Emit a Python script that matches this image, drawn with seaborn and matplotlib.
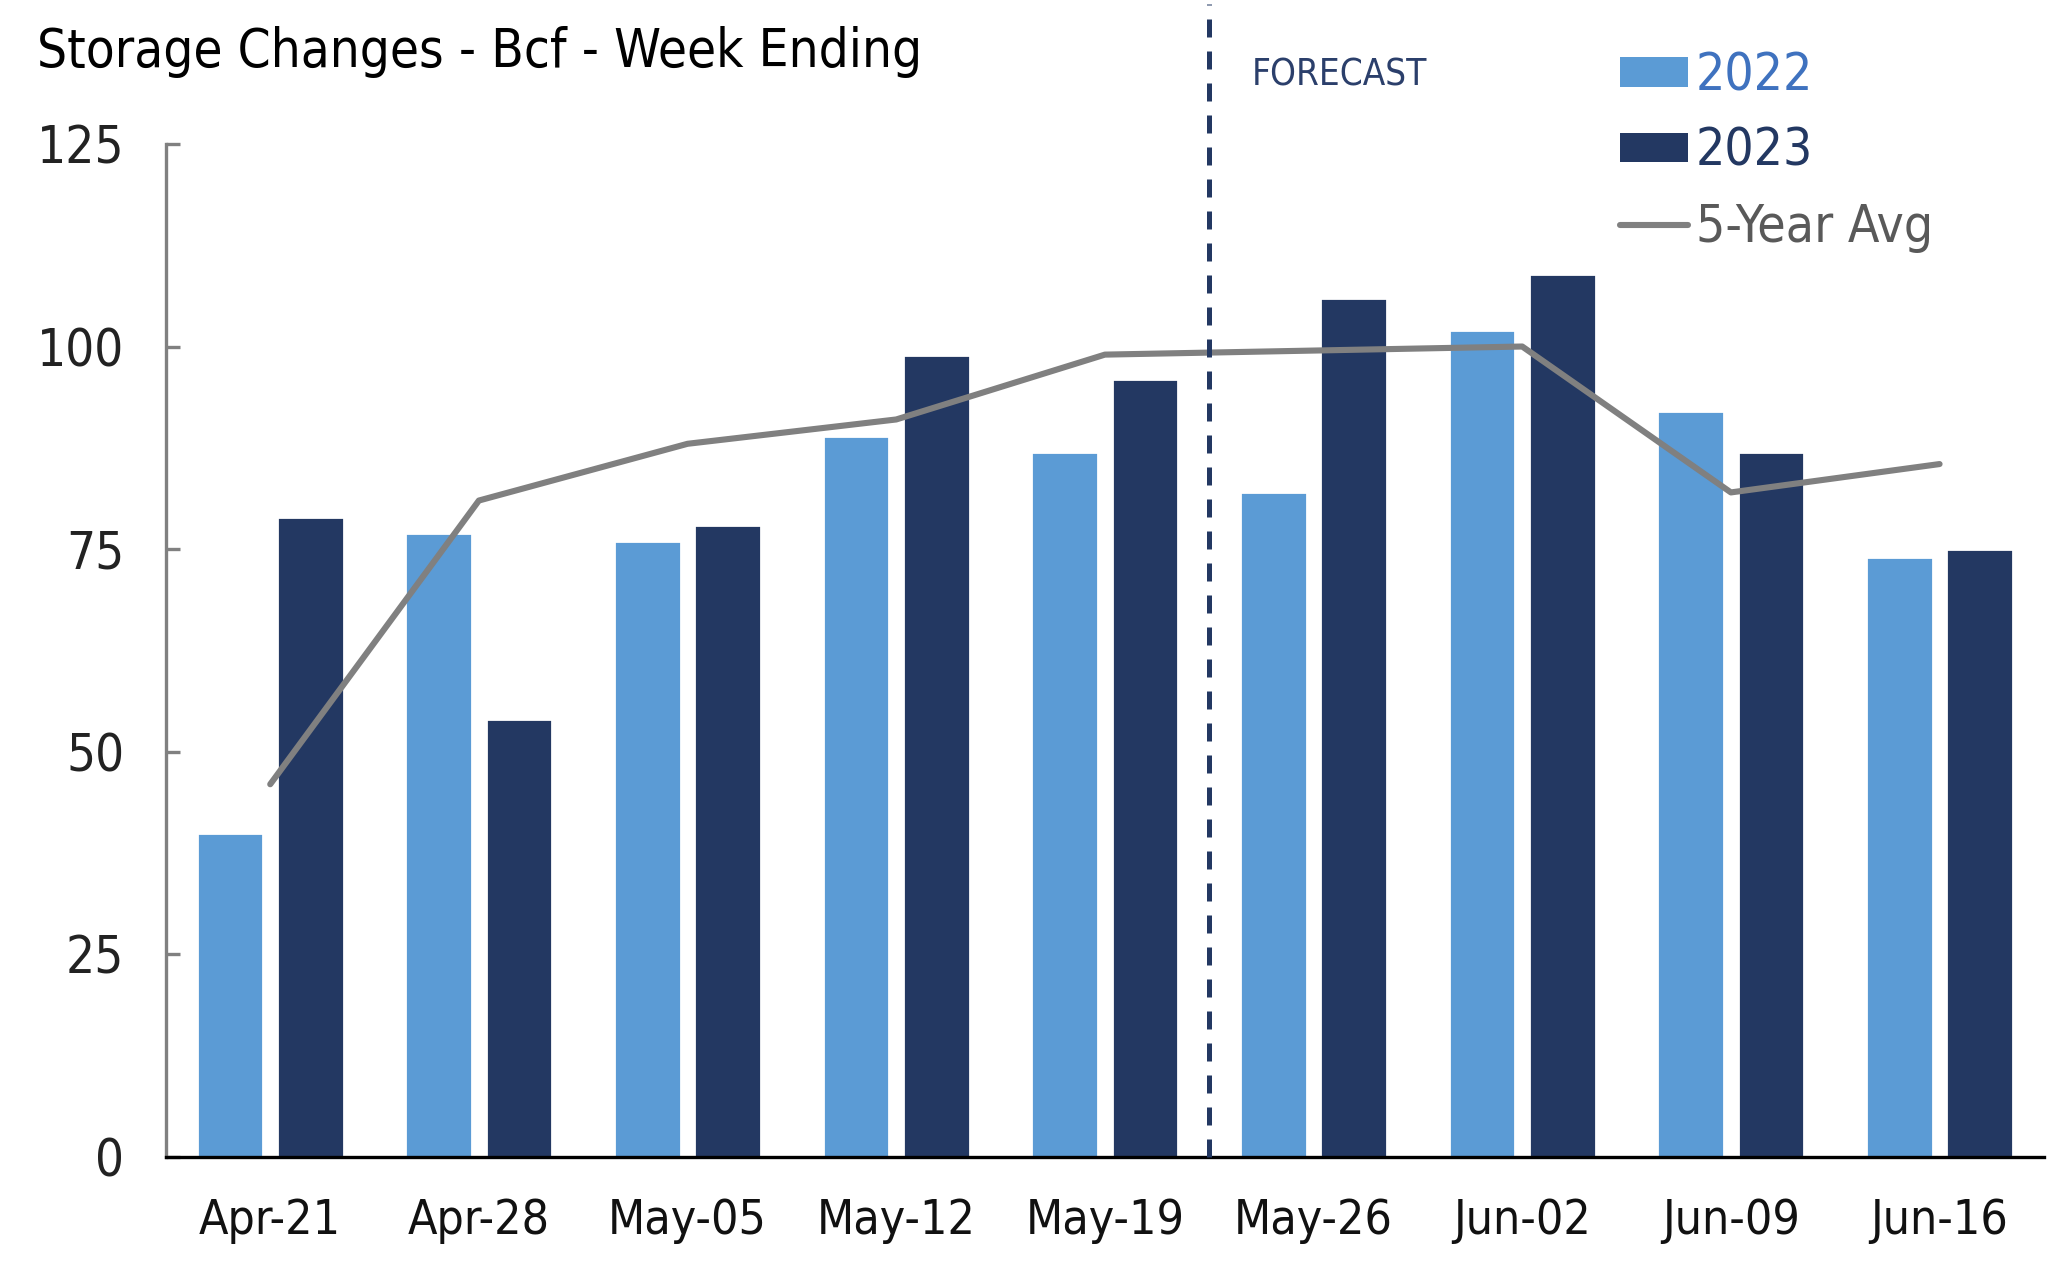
import pandas as pd
import numpy as np
import matplotlib.pyplot as plt
import seaborn as sns
from matplotlib.patches import Patch
from matplotlib.lines import Line2D


# ==============================
# Data
# ==============================

weeks = ["Apr-21", "Apr-28", "May-05", "May-12", "May-19",
         "May-26", "Jun-02", "Jun-09", "Jun-16"]
storage_2022 = [40, 77, 76, 89, 87, 82, 102, 92, 74]
storage_2023 = [79, 54, 78, 99, 96, 106, 109, 87, 75]
five_year_avg = [46, 81, 88, 91, 99, 99.5, 100, 82, 85.5]
y_ticks = [0, 25, 50, 75, 100, 125]

light_blue = "#5B9BD5"
navy = "#233862"
grey = "#808080"

df = pd.DataFrame({
    "week": weeks * 2,
    "value": storage_2022 + storage_2023,
    "year": ["2022"] * len(weeks) + ["2023"] * len(weeks),
})


# ==============================
# Style
# ==============================

sns.set_theme(style="white")
plt.rcParams["font.family"] = ["DejaVu Sans"]
plt.rcParams["font.stretch"] = "condensed"

fig = plt.figure(figsize=(10.24, 6.365), dpi=200)
ax = fig.add_axes([0.081, 0.091, 0.917, 0.796])


# ==============================
# Bars + 5-year line
# ==============================

sns.barplot(
    data=df, x="week", y="value", hue="year",
    palette={"2022": light_blue, "2023": navy},
    width=0.77, gap=0.17, saturation=1, legend=False, ax=ax,
)

sns.lineplot(x=np.arange(len(weeks)), y=five_year_avg, color=grey,
             linewidth=2.2, ax=ax)

# forecast divider
ax.axvline(4.5, ymin=0, ymax=1.138, color=navy, linewidth=1.8,
           linestyle=(0, (3.6, 2.8)), clip_on=False, zorder=5)


# ==============================
# Axes formatting
# ==============================

ax.set_xlim(-0.5, len(weeks) - 0.5)
ax.set_ylim(0, 125)
ax.set_yticks(y_ticks)
ax.set_xlabel("")
ax.set_ylabel("")

for side in ["top", "right"]:
    ax.spines[side].set_visible(False)
ax.spines["left"].set_color(grey)
ax.spines["left"].set_linewidth(1.2)
ax.spines["bottom"].set_color("black")
ax.spines["bottom"].set_linewidth(1.2)

ax.tick_params(axis="y", direction="in", length=5, width=1.2, color=grey,
               pad=15, labelsize=18.3, labelcolor="#222222", left=True)
ax.tick_params(axis="x", length=0, pad=14.5, labelsize=17.3,
               labelcolor="#111111")


# ==============================
# Title, forecast label, legend
# ==============================

fig.text(0.018, 0.947, "Storage Changes - Bcf - Week Ending",
         fontsize=19, color="black", va="baseline", ha="left")

fig.text(0.611, 0.941, "FORECAST", fontsize=13.2, color="#2B3F6B",
         va="center", ha="left")

handles = [
    Patch(facecolor=light_blue, edgecolor="none"),
    Patch(facecolor=navy, edgecolor="none"),
    Line2D([0], [0], color=grey, linewidth=2.2),
]
fig.legend(handles, ["2022", "2023", "5-Year Avg"],
           loc="upper left", bbox_to_anchor=(0.7785, 0.98),
           frameon=False, fontsize=18.5, handlelength=1.32, handleheight=0.5,
           handletextpad=0.15, labelspacing=0.5, borderpad=0,
           labelcolor=["#3F72BF", navy, "#595959"])

plt.savefig("out.png", dpi=200)
plt.close()
